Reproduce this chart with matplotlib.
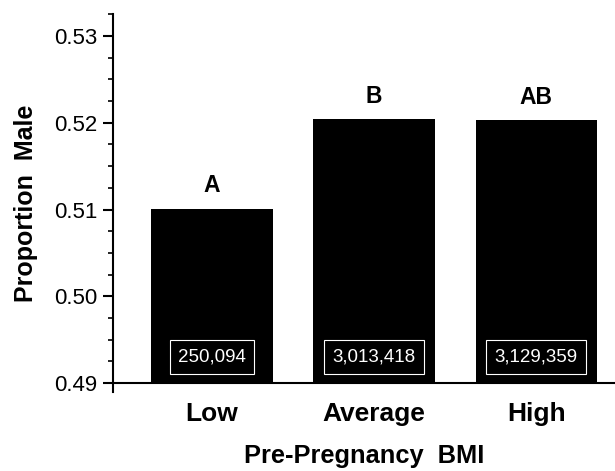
import matplotlib
matplotlib.use("Agg")
import matplotlib.pyplot as plt
from matplotlib.ticker import MultipleLocator

plt.rcParams['font.family'] = ['Liberation Sans', 'DejaVu Sans']

# data
categories = ['Low', 'Average', 'High']
proportion_male = [0.5101, 0.5204, 0.5203]
letters = ['A', 'B', 'AB']
counts = ['250,094', '3,013,418', '3,129,359']

fig = plt.figure(figsize=(6.15, 4.71), dpi=100)
ax = fig.add_axes([0.1837, 0.1677, 0.8163, 0.8025])

base = 0.49
x = range(len(categories))
heights = [v - base for v in proportion_male]
ax.bar(x, heights, bottom=base, width=0.75, color='black')

for i, (v, lab, n) in enumerate(zip(proportion_male, letters, counts)):
    ax.text(i, v + 0.0013, lab, ha='center', va='bottom', fontsize=16.5,
            fontweight='bold')
    ax.text(i, 0.4930, n, ha='center', va='center', fontsize=13.5,
            color='white',
            bbox=dict(boxstyle='square,pad=0.45', fc='black', ec='white', lw=0.8))

ax.set_ylim(0.48896, 0.53254)
ax.set_xlim(-0.61, 2.485)
ax.spines['top'].set_visible(False)
ax.spines['right'].set_visible(False)
ax.spines['bottom'].set_position(('data', base))
ax.spines['left'].set_linewidth(1.5)
ax.spines['bottom'].set_linewidth(1.5)

ax.yaxis.set_minor_locator(MultipleLocator(0.0025))
ax.set_yticks([0.49, 0.50, 0.51, 0.52, 0.53])
ax.set_yticklabels(['0.49', '0.50', '0.51', '0.52', '0.53'])
ax.tick_params(axis='y', which='major', direction='out', length=7, width=1.5,
               labelsize=16, pad=4)
ax.tick_params(axis='y', which='minor', direction='out', length=3.5, width=1.2)

ax.set_xticks(list(x))
ax.set_xticklabels(categories, fontsize=19, fontweight='bold')
ax.tick_params(axis='x', length=0, pad=14)

ax.set_ylabel('Proportion  Male', fontsize=18, fontweight='bold', labelpad=12)
ax.set_xlabel('Pre-Pregnancy  BMI', fontsize=18.3, fontweight='bold', labelpad=13)

fig.savefig('out.png', dpi=100)
